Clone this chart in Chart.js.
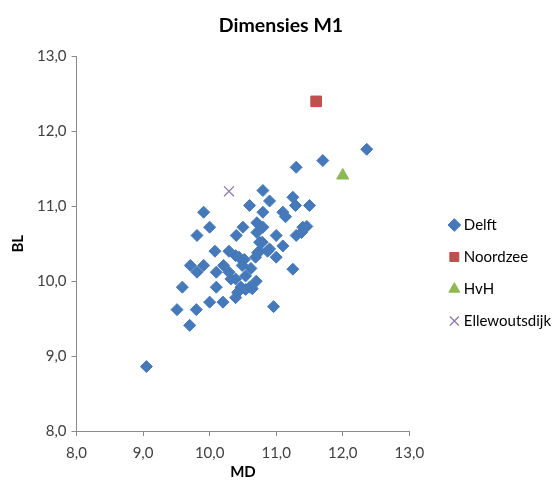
<!DOCTYPE html>
<html>
<head>
<meta charset="utf-8">
<script src="https://cdn.jsdelivr.net/npm/chart.js@4/dist/chart.umd.min.js"></script>
<style>
  html, body { margin: 0; padding: 0; background: #ffffff; }
  #wrap { width: 560px; height: 486px; }
</style>
</head>
<body>
<div id="wrap"><canvas id="c" width="560" height="486"></canvas></div>
<script>
// ---- data ----
const chartTitle = 'Dimensies M1';
const xTitle = 'MD';
const yTitle = 'BL';
const seriesNames = ['Delft', 'Noordzee', 'HvH', 'Ellewoutsdijk'];

const delftMD = [9.05, 11.70, 11.30, 12.36, 10.80, 10.90, 10.60, 11.25, 11.29, 11.50,
  9.91, 10.80, 11.10, 11.14, 10.00, 10.50, 10.71, 10.80, 9.81, 10.40,
  11.00, 11.30, 11.40, 11.46, 10.08, 10.29, 10.39, 9.71, 9.91, 9.81,
  10.21, 10.10, 10.29, 10.32, 9.59, 10.10, 10.00, 10.20, 9.51, 9.80,
  9.70, 10.71, 10.79, 10.75, 10.87, 11.00, 11.10, 10.69, 10.44, 10.49,
  10.62, 11.25, 10.39, 10.54, 10.70, 10.47, 10.60, 10.42, 10.54, 10.64,
  10.39, 10.96, 10.52, 10.90, 11.38, 10.75, 10.72];
const delftBL = [8.86, 11.61, 11.52, 11.76, 11.21, 11.07, 11.01, 11.12, 11.01, 11.01,
  10.92, 10.92, 10.92, 10.86, 10.72, 10.72, 10.78, 10.72, 10.61, 10.61,
  10.61, 10.61, 10.72, 10.73, 10.40, 10.40, 10.34, 10.21, 10.21, 10.12,
  10.21, 10.12, 10.12, 10.03, 9.92, 9.92, 9.72, 9.72, 9.62, 9.62,
  9.41, 10.65, 10.52, 10.40, 10.40, 10.32, 10.47, 10.32, 10.32, 10.21,
  10.17, 10.16, 10.03, 10.07, 10.00, 9.92, 9.92, 9.85, 9.89, 9.90,
  9.78, 9.66, 10.29, 10.43, 10.65, 10.52, 10.38];

const noordzeeMD = [11.60];
const noordzeeBL = [12.40];
const hvhMD = [12.00];
const hvhBL = [11.41];
const ellewoutsdijkMD = [10.29];
const ellewoutsdijkBL = [11.20];

const axisMin = 8, axisMax = 13, axisStep = 1;

// ---- build ----
const toPts = (xs, ys) => xs.map((x, i) => ({ x: x, y: ys[i] }));
const fmt = v => v.toFixed(1).replace('.', ',');
const FONT = 'Lato, "Open Sans", "Liberation Sans", sans-serif';

const datasets = [
  { label: seriesNames[0], data: toPts(delftMD, delftBL), pointStyle: 'rectRot',
    pointRadius: 6, backgroundColor: '#4579BA', borderColor: '#4579BA', borderWidth: 1 },
  { label: seriesNames[1], data: toPts(noordzeeMD, noordzeeBL), pointStyle: 'rect',
    pointRadius: 7.5, backgroundColor: '#C0504D', borderColor: '#C0504D', borderWidth: 1 },
  { label: seriesNames[2], data: toPts(hvhMD, hvhBL), pointStyle: 'triangle',
    pointRadius: 7, backgroundColor: '#8DB852', borderColor: '#8DB852', borderWidth: 1 },
  { label: seriesNames[3], data: toPts(ellewoutsdijkMD, ellewoutsdijkBL), pointStyle: 'crossRot',
    pointRadius: 7, backgroundColor: '#8A76AE', borderColor: '#8A76AE', borderWidth: 1.2 }
];

// legend placement tweak (layout only)
const legendPlace = {
  id: 'legendPlace',
  afterInit(chart) {
    const lg = chart.legend;
    const origFit = lg.fit.bind(lg);
    lg.fit = function () { origFit(); this.width += 25; };
  },
  afterLayout(chart) {
    const lg = chart.legend;
    lg.left += 26; lg.right += 26; lg.top += 28; lg.bottom += 28;
  }
};

const axisCommon = {
  type: 'linear', min: axisMin, max: axisMax,
  border: { display: true, color: '#8C8C8C', width: 1 },
  grid: { display: true, drawOnChartArea: false, drawTicks: true, tickLength: 5, color: '#8C8C8C' },
  ticks: { stepSize: axisStep, color: '#404040', font: { family: FONT, size: 15 }, callback: v => fmt(v) }
};

new Chart(document.getElementById('c'), {
  type: 'scatter',
  data: { datasets: datasets },
  plugins: [legendPlace],
  options: {
    responsive: false,
    animation: false,
    devicePixelRatio: 1,
    layout: { padding: { top: 4, left: 2, right: 0, bottom: 0 } },
    plugins: {
      title: { display: true, text: chartTitle, color: '#000000',
        font: { family: FONT, size: 19.5, weight: 'bold' }, padding: { top: 10, bottom: 19 } },
      legend: {
        position: 'right',
        labels: { usePointStyle: true, color: '#000000', padding: 17,
          font: { family: FONT, size: 15 }, boxWidth: 4, boxHeight: 9 }
      },
      tooltip: { enabled: false }
    },
    scales: {
      x: Object.assign({}, axisCommon, {
        ticks: Object.assign({}, axisCommon.ticks, { padding: 8 }),
        title: { display: true, text: xTitle, color: '#000000', font: { family: FONT, size: 15, weight: 'bold' }, padding: { top: 0, bottom: 5 } },
        afterFit: scale => { scale.height = 55; }
      }),
      y: Object.assign({}, axisCommon, {
        ticks: Object.assign({}, axisCommon.ticks, { padding: 5 }),
        title: { display: true, text: yTitle, color: '#000000', font: { family: FONT, size: 15, weight: 'bold' }, padding: { top: 7, bottom: 5 } }
      })
    }
  }
});
</script>
</body>
</html>
